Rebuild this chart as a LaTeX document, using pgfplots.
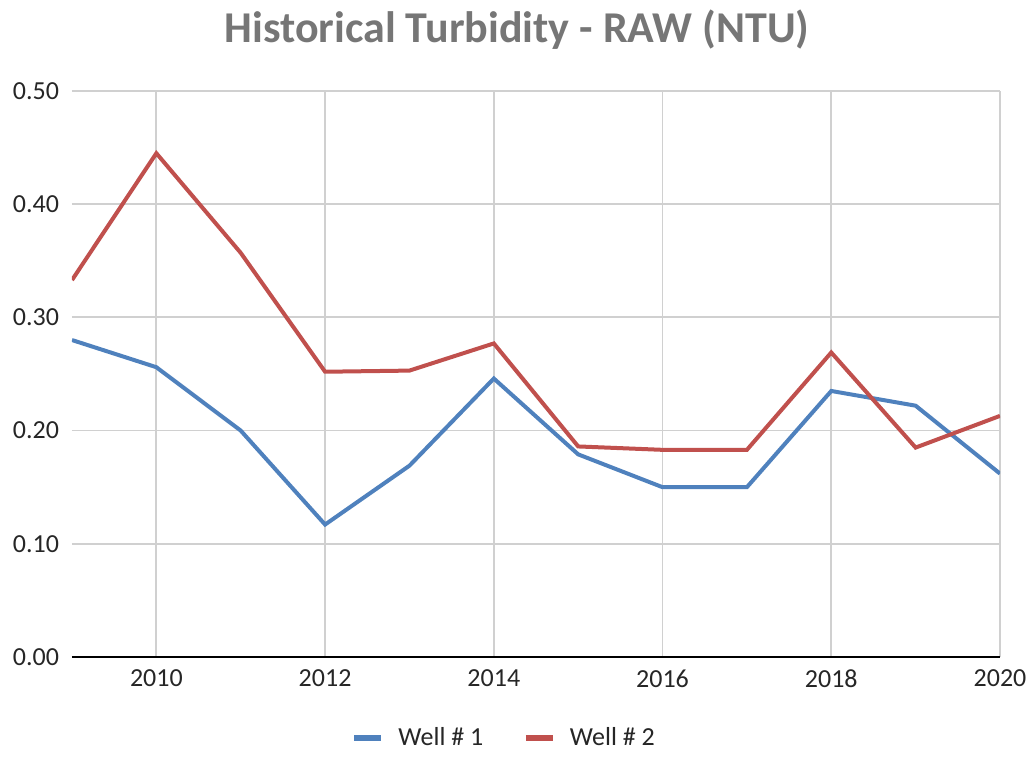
\documentclass[border=0pt]{standalone}
\usepackage{pgfplots}
\pgfplotsset{compat=1.18}
\usepackage{fontspec}
\setmainfont{Carlito}
\definecolor{wblue}{RGB}{79,129,189}
\definecolor{wred}{RGB}{192,80,77}
\definecolor{titlegray}{RGB}{118,118,118}
\definecolor{gridgray}{RGB}{208,208,208}
\definecolor{ticktext}{RGB}{38,38,38}
\begin{document}
\begin{tikzpicture}
\path (0,0) rectangle (517pt,376pt);
\node[font=\fontsize{22}{26}\selectfont\bfseries, text=titlegray] at (258.5pt,361pt) {Historical Turbidity - RAW (NTU)};
\begin{axis}[
  at={(36pt,47.5pt)}, anchor=south west,
  scale only axis, width=464pt, height=283pt,
  xmin=2009, xmax=2020, ymin=0, ymax=0.5,
  xtick={2010,2012,2014,2016,2018,2020},
  ytick={0,0.1,0.2,0.3,0.4,0.5},
  grid=major, major grid style={gridgray, line width=0.9pt},
  axis lines=left,
  x axis line style={black, line width=1pt, -},
  y axis line style={draw=none, -},
  major tick length=0pt,
  tick label style={font=\fontsize{13}{15}\selectfont, text=ticktext},
  /pgf/number format/assume math mode=true,
  xticklabel style={/pgf/number format/1000 sep={}, yshift=-3pt},
  yticklabel style={/pgf/number format/fixed, /pgf/number format/precision=2, /pgf/number format/fixed zerofill, xshift=-3pt},
  legend style={draw=none, at={(0.467,-0.143)}, anchor=center, legend columns=2, font=\fontsize{13}{15}\selectfont, text=ticktext, /tikz/every even column/.append style={column sep=18pt}},
  legend image code/.code={\draw[#1, line width=2.6pt] (0pt,0pt) -- (13.5pt,0pt); \path (19pt,0pt);},
]
\addplot[wblue, line width=2pt] coordinates {
(2009,0.280) (2010,0.256) (2011,0.200) (2012,0.117) (2013,0.169) (2014,0.246)
(2015,0.179) (2016,0.150) (2017,0.150) (2018,0.235) (2019,0.222) (2020,0.162)};
\addlegendentry{Well \# 1}
\addplot[wred, line width=2pt] coordinates {
(2009,0.333) (2010,0.445) (2011,0.357) (2012,0.252) (2013,0.253) (2014,0.277)
(2015,0.186) (2016,0.183) (2017,0.183) (2018,0.269) (2019,0.185) (2020,0.213)};
\addlegendentry{Well \# 2}
\end{axis}
\end{tikzpicture}
\end{document}
